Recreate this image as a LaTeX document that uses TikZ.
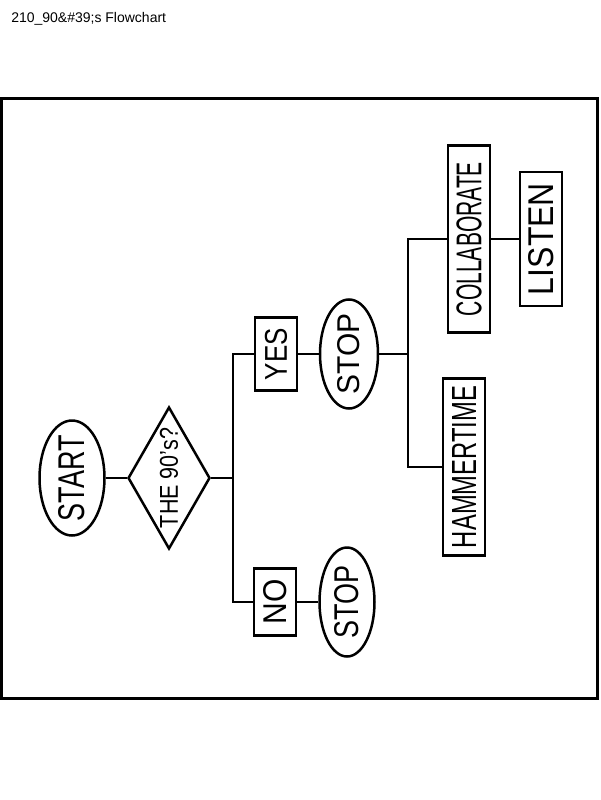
\documentclass[tikz,border=0pt]{standalone}
\usepackage{fontspec}
\usepackage{graphicx}
\setmainfont{Liberation Sans}
\usetikzlibrary{shapes.geometric}
\newcommand{\hand}[3]{\resizebox{#1pt}{#2pt}{#3}}
\begin{document}
\begin{tikzpicture}[x=1pt,y=-1pt,line width=2.5pt,
box/.style={draw,rectangle,rotate=90,inner sep=0pt,minimum height=42pt},
oval/.style={draw,ellipse,rotate=90,inner xsep=-3pt,inner ysep=0pt}]
\useasboundingbox (0,0) rectangle (600,800);
\node[anchor=base west,inner sep=0pt,font=\fontsize{14}{16}\selectfont] (title) at (10,23) {210\_90\&\#39;s Flowchart};
\draw[line width=3pt] (1.5,98.5) rectangle (597,698);
\node[oval,minimum width=115pt,minimum height=65pt] (start) at (72,478) {\hand{86}{26}{START}};
\node[draw,diamond,rotate=90,aspect=1.7,inner sep=0pt,minimum width=142pt,minimum height=82pt] (q) at (169,478) {\hand{100}{18}{THE 90's?}};
\node[box,minimum width=73pt] (yes) at (276,354) {\hand{52}{22}{YES}};
\node[oval,minimum width=109pt,minimum height=58pt] (stop1) at (349,354) {\hand{81}{22}{STOP}};
\node[box,minimum width=67pt] (no) at (275,602) {\hand{45}{23}{NO}};
\node[oval,minimum width=109pt,minimum height=55pt] (stop2) at (347,602) {\hand{73}{24}{STOP}};
\node[box,minimum width=187pt] (collab) at (469,239) {\hand{154}{25}{COLLABORATE}};
\node[box,minimum width=177pt] (hammer) at (464,467) {\hand{162}{24}{HAMMERTIME}};
\node[box,minimum width=134pt] (listen) at (541,239) {\hand{112}{25}{LISTEN}};
\coordinate (j1) at (233,478);
\coordinate (j2) at (408,354);
\draw (start.south) -- (q.north);
\draw (q.south) -- (j1);
\draw (yes.north) -| (j1) |- (no.north);
\draw (yes.south) -- (stop1.north);
\draw (no.south) -- (stop2.north);
\draw (stop1.south) -- (j2);
\draw (collab.north) -| (j2) |- (hammer.north);
\draw (collab.south) -- (listen.north);
\end{tikzpicture}
\end{document}
